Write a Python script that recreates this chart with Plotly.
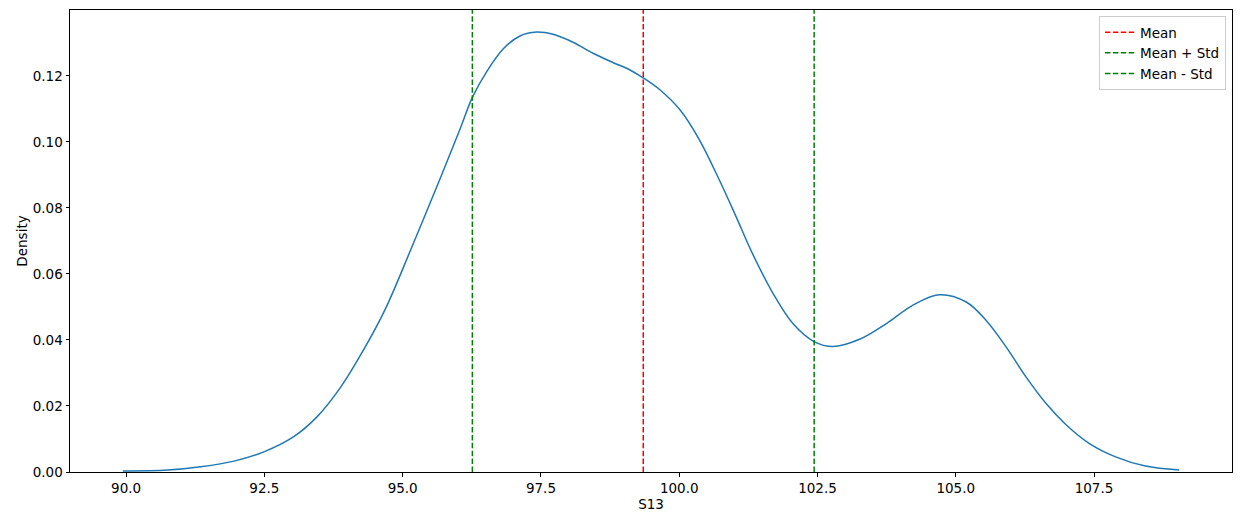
import plotly.graph_objects as go

# KDE curve of S13
s13_x = [89.94, 90.75, 91.35, 91.95, 92.49, 93.03, 93.45, 93.87, 94.29, 94.69,
         95.14, 95.68, 96.04, 96.26, 96.52, 96.82, 97.12, 97.42, 97.72, 98.08,
         98.45, 98.81, 99.11, 99.34, 99.65, 100.01, 100.37, 100.73, 101.03, 101.33, 101.69,
         102.06, 102.43, 102.78, 103.26, 103.74, 104.22, 104.70, 105.19, 105.55, 105.91,
         106.27, 106.63, 106.99, 107.41, 107.89, 108.43, 109.04]
density = [0.0003, 0.0006, 0.0016, 0.0033, 0.0061, 0.0107, 0.0167, 0.0255, 0.0369, 0.0495,
           0.0671, 0.0890, 0.1040, 0.1135, 0.1213, 0.1282, 0.1321, 0.1333, 0.1326, 0.1302,
           0.1268, 0.1240, 0.1218, 0.1195, 0.1158, 0.1098, 0.1005, 0.0883, 0.0773, 0.0660, 0.0543,
           0.0449, 0.0396, 0.0380, 0.0402, 0.0449, 0.0505, 0.0537, 0.0515, 0.0459, 0.0379,
           0.0288, 0.0208, 0.0144, 0.0087, 0.0046, 0.0018, 0.0006]

mean_val = 99.35
std_val = 3.09

x_ticks = [90.0, 92.5, 95.0, 97.5, 100.0, 102.5, 105.0, 107.5]
y_ticks = [0.00, 0.02, 0.04, 0.06, 0.08, 0.10, 0.12]

FONT = "DejaVu Sans"
DASH = "5.5px,2.4px"

fig = go.Figure()
fig.add_trace(go.Scatter(x=s13_x, y=density, mode="lines", line=dict(color="#1f77b4", width=1.5),
                         line_shape="spline", line_smoothing=1.0, showlegend=False, hoverinfo="skip"))

vlines = [(mean_val, "red", "Mean"),
          (mean_val + std_val, "green", "Mean + Std"),
          (mean_val - std_val, "green", "Mean - Std")]
for xv, col, nm in vlines:
    fig.add_vline(x=xv, line=dict(color=col, width=1.5, dash=DASH), showlegend=True, name=nm, layer="above")

axis_common = dict(showgrid=False, zeroline=False, showline=True, linecolor="black", linewidth=1,
                   mirror=True, ticks="outside", ticklen=3.5, tickwidth=0.8, tickcolor="black",
                   automargin=False,
                   tickfont=dict(family=FONT, size=13.5, color="black"))

xmin = min(s13_x) - 0.05 * (max(s13_x) - min(s13_x))
xmax = max(s13_x) + 0.05 * (max(s13_x) - min(s13_x))
ymax = max(density) * 1.05

fig.update_xaxes(range=[xmin, xmax], tickvals=x_ticks, ticktext=[f"{v:.1f}" for v in x_ticks],
                 title=dict(text="S13", font=dict(family=FONT, size=13.5, color="black"), standoff=4),
                 **axis_common)
fig.update_yaxes(range=[0, ymax], tickvals=y_ticks, ticktext=[f"{v:.2f}" for v in y_ticks],
                 title=dict(text="Density", font=dict(family=FONT, size=13.5, color="black"), standoff=2),
                 **axis_common)

# the page body has an 8px default margin, so size/margins compensate for it
fig.update_layout(
    width=1234, height=517,
    margin=dict(l=62, r=10, t=2, b=53, autoexpand=False),
    paper_bgcolor="white", plot_bgcolor="white",
    font=dict(family=FONT, size=13.5, color="black"),
    legend=dict(x=1 - 6 / 1162, y=1 - 6 / 462, xanchor="right", yanchor="top",
                bgcolor="rgba(255,255,255,0.8)", bordercolor="#cccccc", borderwidth=1,
                font=dict(family=FONT, size=13.5, color="black"), tracegroupgap=0,
                itemwidth=30),
)

fig.write_html("out.html")
